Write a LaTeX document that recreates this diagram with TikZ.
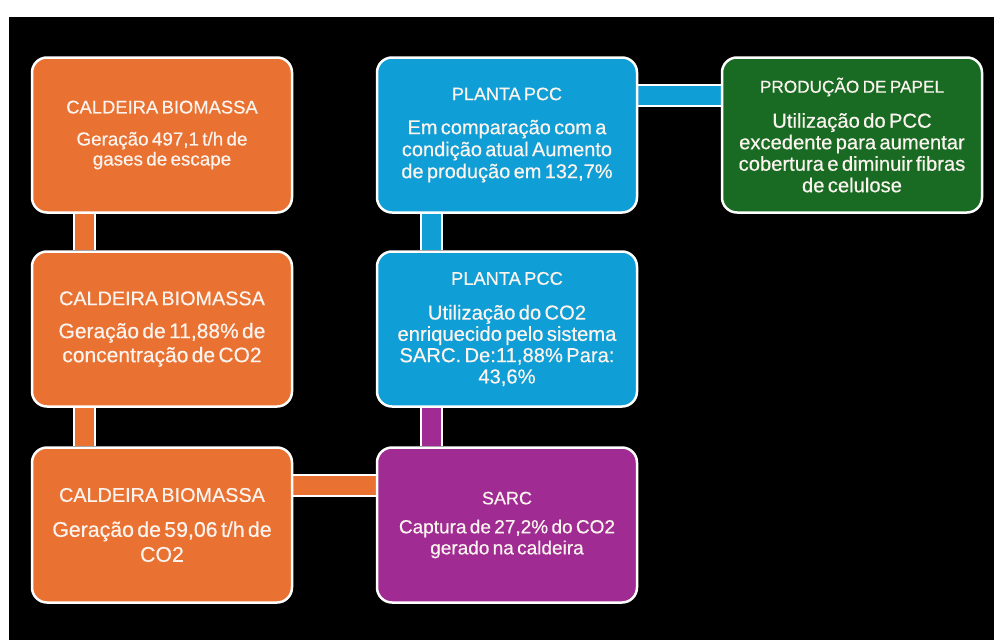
\documentclass[tikz,border=0pt]{standalone}
\usepackage{fontspec}
\setmainfont{Liberation Sans}[FakeBold=0.5]
\usetikzlibrary{backgrounds}
\definecolor{orangeC}{HTML}{E97132}
\definecolor{blueC}{HTML}{0F9ED5}
\definecolor{greenC}{HTML}{196B24}
\definecolor{purpleC}{HTML}{A02B93}
\definecolor{txtC}{HTML}{FBF4EE}
\newcommand{\fsz}[2]{\fontsize{#1}{#2}\selectfont}
\begin{document}
\begin{tikzpicture}[x=1pt,y=-1pt,
  box/.style={rectangle, rounded corners=15pt, draw=white, line width=2.5pt,
    minimum width=260pt, minimum height=155pt, text width=254pt,
    align=center, text=txtC, inner sep=0pt},
  link/.style={draw=white, line width=2pt, double distance=19pt}]
\begin{scope}[on background layer]
  \useasboundingbox (0,0) rectangle (994,640);
  \fill[white] (0,0) rectangle (994,640);
  \fill[black] (9,17) rectangle (994,640);
\end{scope}

\node[box, fill=orangeC] (cb1) at (162,135)
  {\fsz{18.4}{20}CALDEIRA BIOMASSA\\[12pt]\fsz{18.8}{20}Geração 497,1 t/h de\\gases de escape\par};
\node[box, fill=orangeC] (cb2) at (162,329)
  {\fsz{19.8}{24}CALDEIRA BIOMASSA\\[9pt]\fsz{21}{24}Geração de 11,88\% de\\concentração de CO2\par};
\node[box, fill=orangeC] (cb3) at (162,525)
  {\fsz{19.8}{25}CALDEIRA BIOMASSA\\[10pt]\fsz{21.3}{25}Geração de 59,06 t/h de\\CO2\par};
\node[box, fill=blueC] (pcc1) at (507,135)
  {\fsz{18}{22}PLANTA PCC\\[12pt]\fsz{20}{22}Em comparação com a\\condição atual Aumento\\de produção em 132,7\%\par};
\node[box, fill=blueC] (pcc2) at (507,329)
  {\fsz{18.3}{21.3}PLANTA PCC\\[13.5pt]\fsz{20.2}{21.3}Utilização do CO2\\enriquecido pelo sistema\\SARC. De:11,88\% Para:\\43,6\%\par};
\node[box, fill=purpleC] (sarc) at (507,525)
  {\fsz{18}{21}SARC\\[8pt]\fsz{19}{21}Captura de 27,2\% do CO2\\gerado na caldeira\par};
\node[box, fill=greenC] (papel) at (852,135)
  {\fsz{17.2}{21.5}PRODUÇÃO DE PAPEL\\[13.5pt]\fsz{20.2}{21.5}Utilização do PCC\\excedente para aumentar\\cobertura e diminuir fibras\\de celulose\par};

\begin{scope}[on background layer]
  \draw[link, double=orangeC] ([xshift=-78pt]cb1.south) -- ([xshift=-78pt]cb2.north);
  \draw[link, double=orangeC] ([xshift=-78pt]cb2.south) -- ([xshift=-78pt]cb3.north);
  \draw[link, double=blueC] ([xshift=-76pt]pcc1.south) -- ([xshift=-76pt]pcc2.north);
  \draw[link, double=purpleC] ([xshift=-76pt]pcc2.south) -- ([xshift=-76pt]sarc.north);
  \draw[link, double=orangeC] ([yshift=40pt]cb3.east) -- ([yshift=40pt]sarc.west);
  \draw[link, double=blueC] ([yshift=40pt]pcc1.east) -- ([yshift=40pt]papel.west);
\end{scope}
\end{tikzpicture}
\end{document}
